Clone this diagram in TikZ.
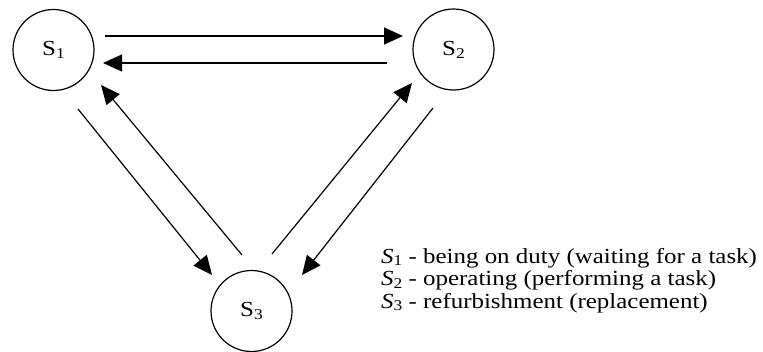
\documentclass[tikz,border=0pt]{standalone}
\usepackage{fontspec}
\setmainfont{Liberation Serif}
\usetikzlibrary{arrows.meta,calc}
\newcommand{\lowsub}[1]{\raisebox{-0.3ex}{\fontsize{15}{15}\selectfont #1}}
\newcommand{\wide}[1]{\scalebox{1.16}[1]{#1}}
\tikzset{
  state/.style={circle,draw,line width=1.2pt,minimum size=81pt,inner sep=0pt,font=\fontsize{21.5}{21.5}\selectfont},
  arr/.style={line width=1.2pt,-{Triangle[length=19pt,width=17pt]}},
  legend/.style={anchor=base west,inner sep=0pt,font=\fontsize{21.5}{21.5}\selectfont}
}
\begin{document}
\begin{tikzpicture}[x=1pt,y=-1pt]
\useasboundingbox (0,0) rectangle (763,351);
\node[state] (s1) at (53.5,50) {\wide{S\lowsub{1}}};
\node[state] (s2) at (453.5,49.5) {\wide{S\lowsub{2}}};
\node[state] (s3) at (251.5,311) {\wide{S\lowsub{3}}};
\draw[arr] ($(s1.center)+(51.5,-14)$) -- ($(s2.center)+(-50.5,-13.5)$);
\draw[arr] ($(s2.center)+(-66.5,13.5)$) -- ($(s1.center)+(49.5,13)$);
\draw[arr] ($(s3.center)+(-9.5,-56)$) -- ($(s1.center)+(47.5,35)$);
\draw[arr] ($(s1.center)+(24.5,59)$) -- ($(s3.center)+(-39.5,-36)$);
\draw[arr] ($(s3.center)+(20.5,-57)$) -- ($(s2.center)+(-41.5,33.5)$);
\draw[arr] ($(s2.center)+(-20.5,58.5)$) -- ($(s3.center)+(50.5,-36)$);
\node[legend] (l1) at (381,263) {\wide{\textit{S}\lowsub{1} - being on duty (waiting for a task)}};
\node[legend] (l2) at (381,285.5) {\wide{\textit{S}\lowsub{2} - operating (performing a task)}};
\node[legend] (l3) at (381,308) {\wide{\textit{S}\lowsub{3} - refurbishment (replacement)}};
\end{tikzpicture}
\end{document}
